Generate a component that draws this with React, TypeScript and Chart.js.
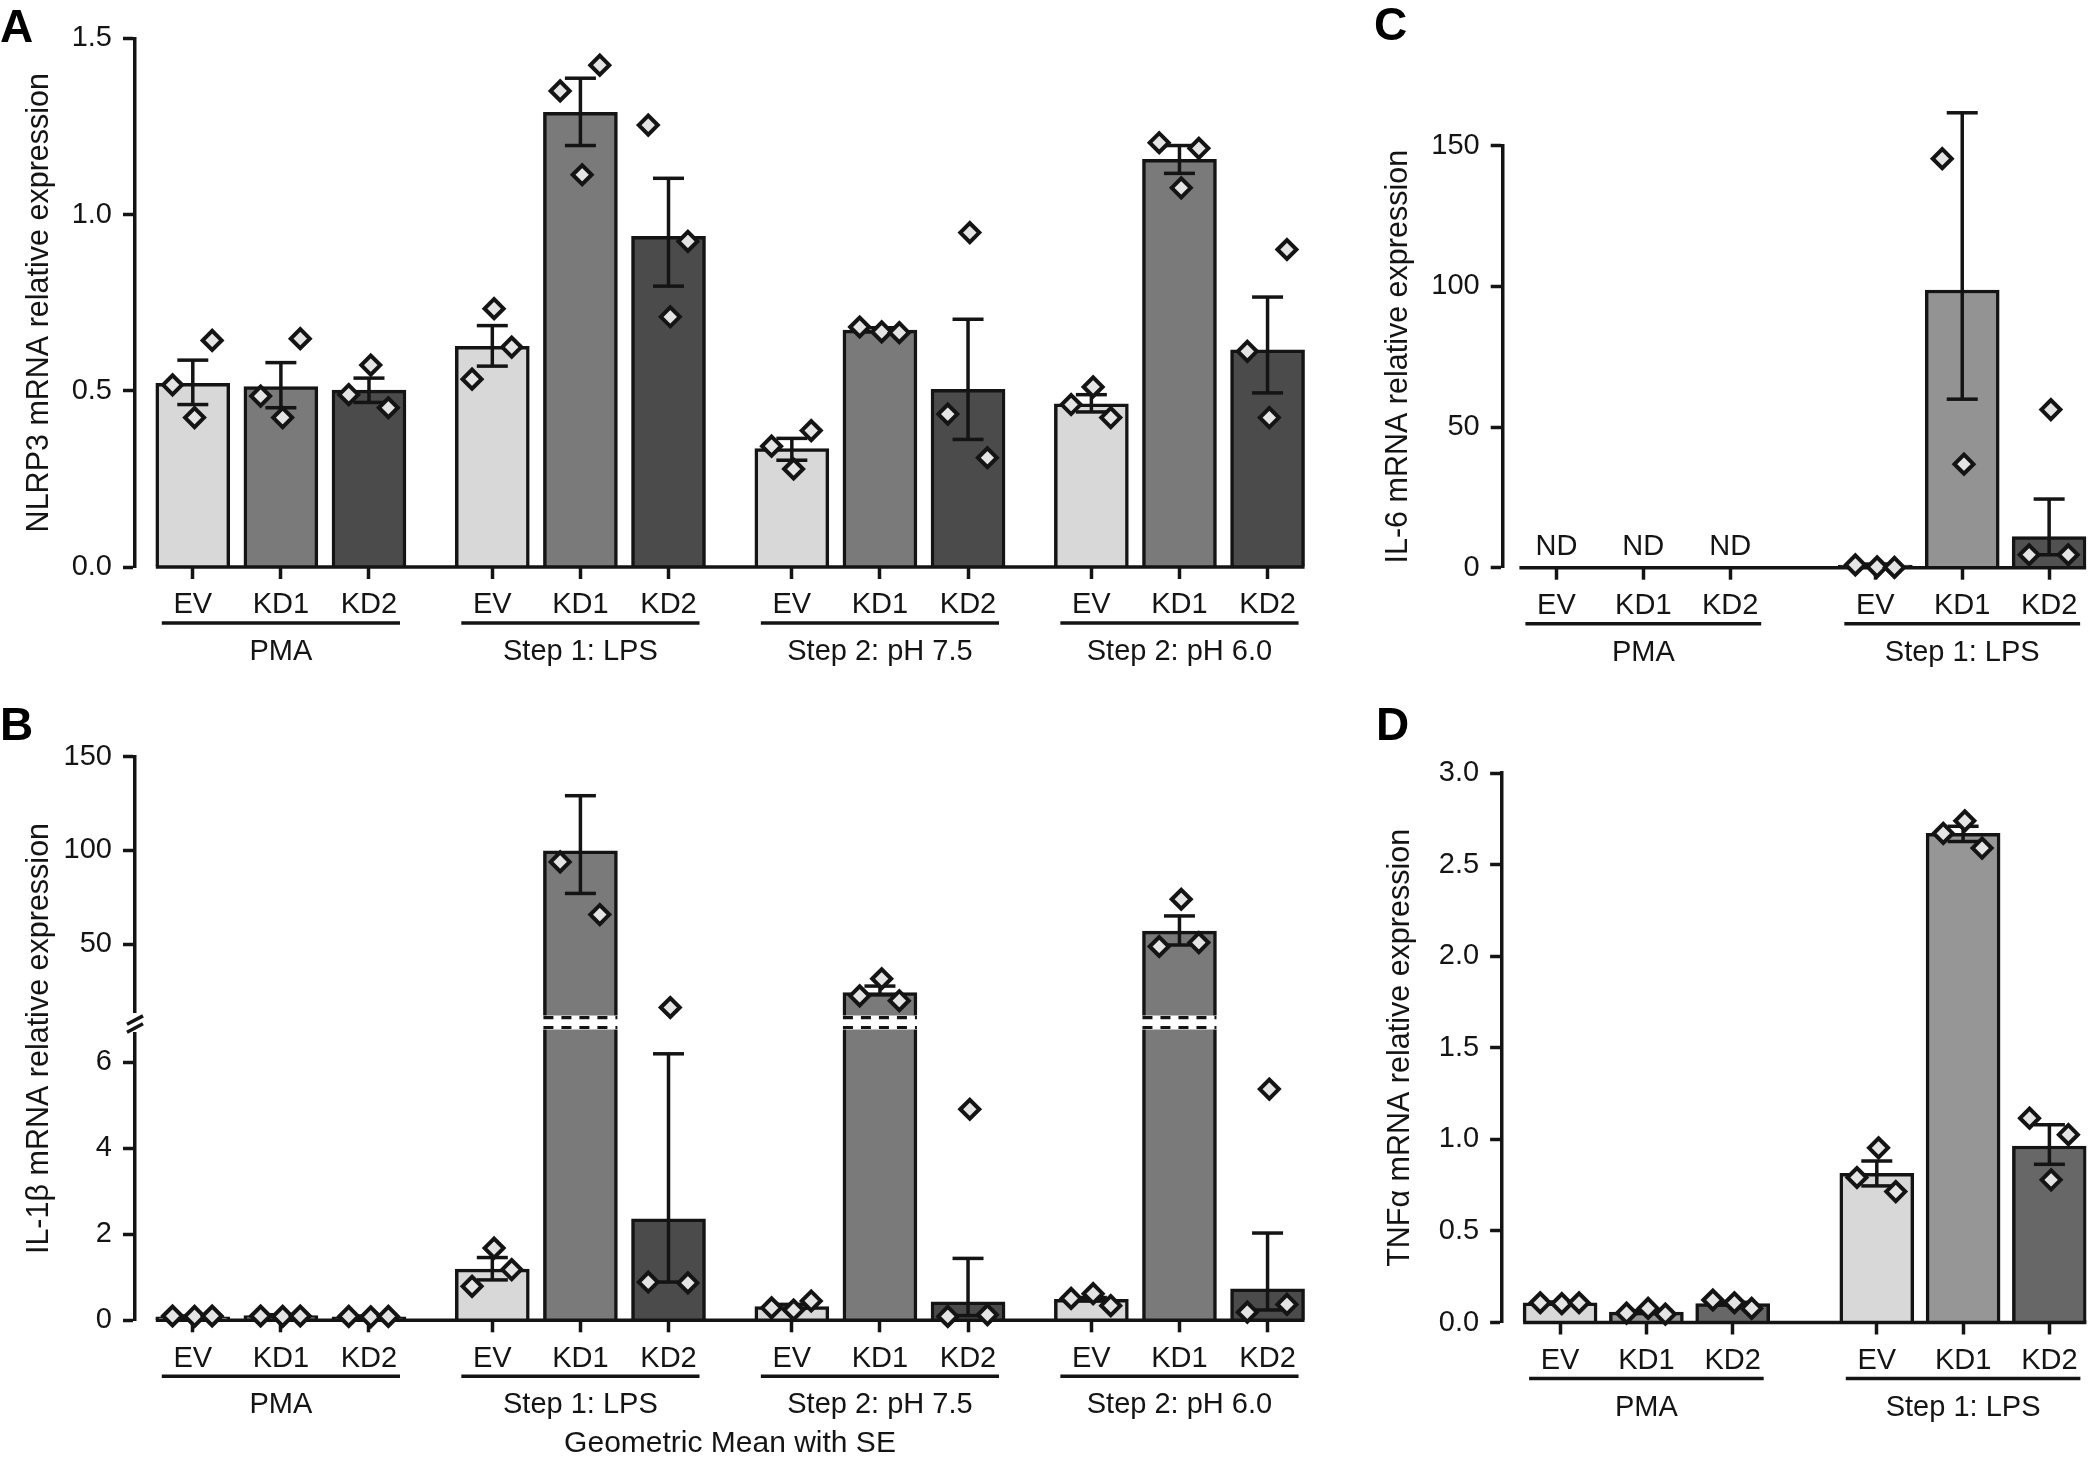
import React, { useEffect, useRef } from 'react';
import { Chart, registerables, LinearScale } from 'chart.js';

const FONT = "'Liberation Sans', Arial, Helvetica, sans-serif";
const INK = '#141414';
const POINT_FILL = '#e4e4e4';

// ---------------- data ----------------
const CONDITIONS = ['EV', 'KD1', 'KD2'];
const GROUPS_4 = ['PMA', 'Step 1: LPS', 'Step 2: pH 7.5', 'Step 2: pH 6.0'];
const GROUPS_2 = ['PMA', 'Step 1: LPS'];

// A: NLRP3
const NLRP3_MEAN = [0.521, 0.512, 0.502, 0.626, 1.29, 0.938, 0.336, 0.672, 0.504, 0.463, 1.157, 0.616];
const NLRP3_SE_HI = [0.587, 0.58, 0.536, 0.685, 1.387, 1.103, 0.365, 0.679, 0.703, 0.489, 1.196, 0.766];
const NLRP3_SE_LO = [0.461, 0.452, 0.467, 0.57, 1.196, 0.797, 0.303, 0.667, 0.362, 0.44, 1.117, 0.494];
const NLRP3_POINTS = [
  [0.517, 0.424, 0.643], [0.485, 0.424, 0.648], [0.489, 0.573, 0.452],
  [0.533, 0.733, 0.624], [1.351, 1.113, 1.424], [1.254, 0.71, 0.924],
  [0.343, 0.278, 0.387], [0.681, 0.667, 0.665], [0.434, 0.949, 0.31],
  [0.461, 0.511, 0.424], [1.204, 1.076, 1.188], [0.612, 0.424, 0.901],
];

// B: IL-1β
const IL1B_MEAN = [0.08, 0.11, 0.08, 1.19, 99.8, 2.36, 0.32, 24.3, 0.43, 0.49, 57.0, 0.73];
const IL1B_SE_HI = [0.1, 0.13, 0.1, 1.46, 129.2, 6.2, 0.37, 27.7, 1.44, 0.53, 65.1, 2.03];
const IL1B_SE_LO = [0.06, 0.09, 0.06, 0.94, 77.1, 0.89, 0.28, 23.0, 0.11, 0.45, 49.6, 0.24];
const IL1B_POINTS = [
  [0.1, 0.09, 0.1], [0.1, 0.09, 0.1], [0.09, 0.08, 0.09],
  [0.79, 1.68, 1.18], [93.9, 160.7, 65.8], [0.89, 16.3, 0.87],
  [0.29, 0.24, 0.45], [22.5, 31.6, 19.9], [0.09, 4.91, 0.13],
  [0.51, 0.62, 0.34], [48.8, 74.0, 50.9], [0.19, 5.38, 0.37],
];

// C: IL-6 (null = ND)
const IL6_MEAN = [null, null, null, 0.9, 98.7, 11.1];
const IL6_SE_HI = [null, null, null, 1.3, 161.7, 24.4];
const IL6_SE_LO = [null, null, null, 0.5, 59.9, 4.6];
const IL6_POINTS = [[], [], [], [1.0, 0.3, 0.1], [145.4, 36.8, 178.0], [4.6, 56.2, 4.6]];

// D: TNFα
const TNFA_MEAN = [0.108, 0.057, 0.103, 0.815, 2.671, 0.964];
const TNFA_SE_HI = [0.112, 0.065, 0.11, 0.882, 2.71, 1.08];
const TNFA_SE_LO = [0.104, 0.05, 0.096, 0.746, 2.627, 0.864];
const TNFA_POINTS = [
  [0.108, 0.103, 0.108], [0.051, 0.077, 0.046], [0.123, 0.108, 0.077],
  [0.792, 0.954, 0.715], [2.671, 2.74, 2.591], [1.116, 0.779, 1.026],
];

const Y_TICKS_A = [0, 0.5, 1.0, 1.5];
const Y_TICKS_B = [0, 2, 4, 6, 50, 100, 150];
const Y_TICKS_C = [0, 50, 100, 150];
const Y_TICKS_D = [0, 0.5, 1.0, 1.5, 2.0, 2.5, 3.0];

const COLORS_AB = ['#d8d8d8', '#7a7a7a', '#4b4b4b'];
const COLORS_C = ['#d8d8d8', '#939393', '#515151'];
const COLORS_D = ['#d8d8d8', '#969696', '#676767'];

// ---------------- broken axis scale ----------------
const BREAK = { lowMax: 6.8, upMin: 11.2, lowFrac: 0.5186, gapFrac: 0.0195 };

class BrokenLinearScale extends LinearScale {
  static id = 'brokenLinear';
  getPixelForValue(value: any) {
    if (value === null || value === undefined || Number.isNaN(+value)) return NaN;
    const v = +value;
    const { lowMax, upMin, lowFrac, gapFrac } = BREAK;
    const top = (this as any).max as number;
    let d: number;
    if (v <= lowMax) d = (v / lowMax) * lowFrac;
    else if (v < upMin) d = lowFrac + ((v - lowMax) / (upMin - lowMax)) * gapFrac;
    else d = lowFrac + gapFrac + ((v - upMin) / (top - upMin)) * (1 - lowFrac - gapFrac);
    return this.getPixelForDecimal(d);
  }
  getValueForPixel(pixel: number) {
    const d = this.getDecimalForPixel(pixel);
    const { lowMax, upMin, lowFrac, gapFrac } = BREAK;
    const top = (this as any).max as number;
    if (d <= lowFrac) return (d / lowFrac) * lowMax;
    if (d <= lowFrac + gapFrac) return lowMax + ((d - lowFrac) / gapFrac) * (upMin - lowMax);
    return upMin + ((d - lowFrac - gapFrac) / (1 - lowFrac - gapFrac)) * (top - upMin);
  }
}

Chart.register(...registerables, BrokenLinearScale);
Chart.defaults.font.family = FONT;

// ---------------- panels ----------------
type Panel = {
  key: string;
  left: number; top: number; width: number; height: number;
  yWidth: number;
  pad: { left: number; top: number; right: number; bottom: number };
  xMin: number; xMax: number; groupStep: number;
  groups: string[];
  mean: (number | null)[]; hi: (number | null)[]; lo: (number | null)[]; points: number[][];
  colors: string[];
  yMax: number; yTicks: number[]; yFmt: (v: number) => string;
  title: string; titlePad: number;
  broken?: boolean;
  footer?: { text: string; x: number; y: number };
};

const fixed1 = (v: number) => Number(v).toFixed(1);
const plain = (v: number) => String(v);

const PANELS: Panel[] = [
  {
    key: 'A', left: 0, top: 0, width: 1330, height: 700, yWidth: 135,
    pad: { left: 0, top: 38.4, right: 25, bottom: 23 },
    xMin: -0.656, xMax: 12.625, groupStep: 3.4, groups: GROUPS_4,
    mean: NLRP3_MEAN, hi: NLRP3_SE_HI, lo: NLRP3_SE_LO, points: NLRP3_POINTS, colors: COLORS_AB,
    yMax: 1.5, yTicks: Y_TICKS_A, yFmt: fixed1,
    title: 'NLRP3 mRNA relative expression', titlePad: 24,
  },
  {
    key: 'B', left: 0, top: 700, width: 1330, height: 758, yWidth: 135,
    pad: { left: 0, top: 56.7, right: 25, bottom: 27.7 },
    xMin: -0.656, xMax: 12.625, groupStep: 3.4, groups: GROUPS_4,
    mean: IL1B_MEAN, hi: IL1B_SE_HI, lo: IL1B_SE_LO, points: IL1B_POINTS, colors: COLORS_AB,
    yMax: 150, yTicks: Y_TICKS_B, yFmt: plain,
    title: 'IL-1β mRNA relative expression', titlePad: 24, broken: true,
    footer: { text: 'Geometric Mean with SE', x: 730, y: 752 },
  },
  {
    key: 'C', left: 1380, top: 0, width: 720, height: 700, yWidth: 122.7,
    pad: { left: 0, top: 145.7, right: 1.4, bottom: 22.3 },
    xMin: -0.618, xMax: 6.1, groupStep: 3.67, groups: GROUPS_2,
    mean: IL6_MEAN, hi: IL6_SE_HI, lo: IL6_SE_LO, points: IL6_POINTS, colors: COLORS_C,
    yMax: 150, yTicks: Y_TICKS_C, yFmt: plain,
    title: 'IL-6 mRNA relative expression', titlePad: 3,
  },
  {
    key: 'D', left: 1380, top: 700, width: 720, height: 758, yWidth: 122.1,
    pad: { left: 0, top: 73.2, right: 2.8, bottom: 25.5 },
    xMin: -0.672, xMax: 6.1, groupStep: 3.67, groups: GROUPS_2,
    mean: TNFA_MEAN, hi: TNFA_SE_HI, lo: TNFA_SE_LO, points: TNFA_POINTS, colors: COLORS_D,
    yMax: 3, yTicks: Y_TICKS_D, yFmt: fixed1,
    title: 'TNFα mRNA relative expression', titlePad: 5,
  },
];

const OFFS = [-0.23, 0.02, 0.22];
const BAR_W = 74;
const HALF_BAR = BAR_W / 2;
const CAP = 15.5;
const LW = 3.5;

function line(ctx: CanvasRenderingContext2D, x1: number, y1: number, x2: number, y2: number) {
  ctx.beginPath();
  ctx.moveTo(x1, y1);
  ctx.lineTo(x2, y2);
  ctx.stroke();
}

function buildChart(canvas: HTMLCanvasElement, p: Panel) {
  const xs: number[] = [];
  for (let g = 0; g < p.groups.length; g++) for (let i = 0; i < 3; i++) xs.push(g * p.groupStep + i);
  const barIdx = xs.map((_, k) => k).filter((k) => p.mean[k] !== null);
  const barData = barIdx.map((k) => ({ x: xs[k], y: p.mean[k] as number }));
  const barColors = barIdx.map((k) => p.colors[k % 3]);
  const ptData: { x: number; y: number }[] = [];
  p.points.forEach((vals, k) => vals.forEach((v, j) => ptData.push({ x: xs[k] + OFFS[j], y: v })));

  const tickFont = { family: FONT, size: 29 };

  const decor = {
    id: 'decor' + p.key,
    afterDatasetDraw(chart: any, args: any) {
      if (args.index !== 0) return;
      const ctx: CanvasRenderingContext2D = chart.ctx;
      const xS = chart.scales.x;
      const yS = chart.scales.y;
      const y0 = yS.getPixelForValue(0);
      ctx.save();
      // axis break band across tall bars
      if (p.broken) {
        const pU = yS.getPixelForValue(BREAK.upMin);
        const pL = yS.getPixelForValue(BREAK.lowMax);
        for (const k of barIdx) {
          if ((p.mean[k] as number) <= BREAK.lowMax) continue;
          const px = xS.getPixelForValue(xs[k]);
          const l = px - HALF_BAR - 1;
          const r = px + HALF_BAR + 1;
          ctx.fillStyle = '#ffffff';
          ctx.fillRect(l, pU - 1.5, r - l, pL - pU + 3);
          ctx.strokeStyle = INK;
          ctx.lineWidth = 3.2;
          ctx.setLineDash([10, 8]);
          line(ctx, l + 1, pU + 0.5, r - 1, pU + 0.5);
          line(ctx, l + 1, pL - 0.5, r - 1, pL - 0.5);
          ctx.setLineDash([]);
        }
      }
      // baseline
      ctx.strokeStyle = INK;
      ctx.lineWidth = LW;
      line(ctx, xS.getPixelForValue(xs[0]) - HALF_BAR, y0, xS.getPixelForValue(xs[xs.length - 1]) + HALF_BAR, y0);
      // error bars
      for (const k of barIdx) {
        const px = xS.getPixelForValue(xs[k]);
        const ph = yS.getPixelForValue(p.hi[k] as number);
        const pl = yS.getPixelForValue(p.lo[k] as number);
        line(ctx, px, ph, px, pl);
        line(ctx, px - CAP, ph, px + CAP, ph);
        line(ctx, px - CAP, pl, px + CAP, pl);
      }
      ctx.restore();
    },
    afterDraw(chart: any) {
      const ctx: CanvasRenderingContext2D = chart.ctx;
      const xS = chart.scales.x;
      const yS = chart.scales.y;
      const y0 = yS.getPixelForValue(0);
      ctx.save();
      ctx.strokeStyle = INK;
      ctx.fillStyle = INK;
      ctx.lineWidth = LW;
      // y-axis break marks
      if (p.broken) {
        const pU = yS.getPixelForValue(BREAK.upMin);
        const pL = yS.getPixelForValue(BREAK.lowMax);
        const ax = chart.chartArea.left;
        ctx.fillStyle = '#ffffff';
        ctx.fillRect(ax - 10, pU - 4, 20, pL - pU + 8);
        ctx.fillStyle = INK;
        for (const c of [pU + 3, pL]) line(ctx, ax - 8, c + 4.2, ax + 8, c - 4.2);
      }
      ctx.font = `29px ${FONT}`;
      ctx.textAlign = 'center';
      ctx.textBaseline = 'alphabetic';
      // ND labels
      xs.forEach((xv, k) => {
        if (p.mean[k] === null) ctx.fillText('ND', xS.getPixelForValue(xv), y0 - 13);
      });
      // group underlines and labels
      p.groups.forEach((name, g) => {
        const a = xS.getPixelForValue(xs[g * 3]);
        const b = xS.getPixelForValue(xs[g * 3 + 2]);
        line(ctx, a - 31, y0 + 56, b + 31, y0 + 56);
        ctx.fillText(name, (a + b) / 2, y0 + 93);
      });
      if (p.footer) {
        ctx.font = `30px ${FONT}`;
        ctx.fillText(p.footer.text, p.footer.x, p.footer.y);
      }
      ctx.restore();
    },
  };

  return new Chart(canvas, {
    type: 'bar',
    data: {
      datasets: [
        {
          type: 'bar',
          data: barData as any,
          backgroundColor: barColors,
          borderColor: INK,
          borderWidth: 3.5,
          barThickness: BAR_W,
          order: 2,
        } as any,
        {
          type: 'scatter',
          data: ptData as any,
          pointStyle: 'rectRot',
          pointRadius: 9.5,
          backgroundColor: POINT_FILL,
          borderColor: INK,
          pointBackgroundColor: POINT_FILL,
          pointBorderColor: INK,
          pointBorderWidth: 4,
          borderWidth: 4,
          clip: false,
          order: 1,
        } as any,
      ],
    },
    options: {
      animation: false,
      responsive: false,
      devicePixelRatio: 1,
      events: [],
      layout: { padding: p.pad },
      plugins: { legend: { display: false }, tooltip: { enabled: false } },
      scales: {
        x: {
          type: 'linear',
          min: p.xMin,
          max: p.xMax,
          offset: false,
          bounds: 'data',
          afterBuildTicks: (s: any) => { s.ticks = xs.map((v) => ({ value: v })); },
          afterFit: (s: any) => { s.height = 110; },
          ticks: {
            callback: (_v: any, i: number) => CONDITIONS[i % 3],
            font: tickFont, color: INK, padding: 9, autoSkip: false, maxRotation: 0, minRotation: 0,
          },
          grid: {
            display: true, offset: false, drawOnChartArea: false, drawTicks: true,
            tickLength: 12, tickWidth: LW, tickColor: INK,
          },
          border: { display: false },
        },
        y: {
          type: p.broken ? 'brokenLinear' : 'linear',
          min: 0,
          max: p.yMax,
          afterBuildTicks: (s: any) => { s.ticks = p.yTicks.map((v) => ({ value: v })); },
          afterFit: (s: any) => { s.width = p.yWidth; },
          ticks: { callback: (v: any) => p.yFmt(v), font: tickFont, color: INK, padding: 11 },
          grid: { display: true, drawOnChartArea: false, drawTicks: true, tickLength: 12, tickWidth: LW, tickColor: INK },
          border: { display: true, width: LW, color: INK },
          title: {
            display: true, text: p.title, color: INK,
            font: { family: FONT, size: 30.5, lineHeight: 1 },
            padding: { top: p.titlePad, bottom: 0 },
          },
        } as any,
      },
    } as any,
    plugins: [decor],
  });
}

function PanelChart({ cfg }: { cfg: Panel }) {
  const ref = useRef<HTMLCanvasElement | null>(null);
  useEffect(() => {
    if (!ref.current) return;
    const chart = buildChart(ref.current, cfg);
    return () => chart.destroy();
  }, [cfg]);
  return (
    <canvas
      ref={ref}
      width={cfg.width}
      height={cfg.height}
      style={{ position: 'absolute', left: cfg.left, top: cfg.top, width: cfg.width, height: cfg.height }}
    />
  );
}

const LETTERS = [
  { t: 'A', x: 0, y: 3 },
  { t: 'B', x: 0, y: 701 },
  { t: 'C', x: 1374, y: 1 },
  { t: 'D', x: 1376, y: 701 },
];

export default function App() {
  return (
    <div style={{ position: 'absolute', left: 0, top: 0, width: 2100, height: 1458, background: '#ffffff', overflow: 'hidden' }}>
      {PANELS.map((p) => (
        <PanelChart key={p.key} cfg={p} />
      ))}
      {LETTERS.map((l) => (
        <div
          key={l.t}
          style={{
            position: 'absolute', left: l.x, top: l.y, font: `bold 46px ${FONT}`, lineHeight: 1, color: '#000',
          }}
        >
          {l.t}
        </div>
      ))}
    </div>
  );
}
